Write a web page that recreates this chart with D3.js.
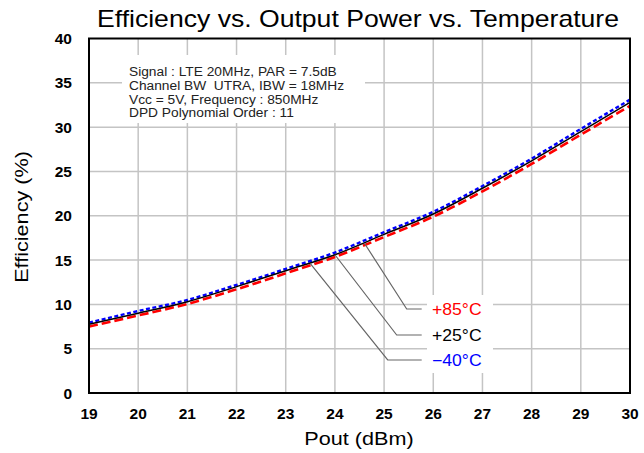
<!DOCTYPE html>
<html><head><meta charset="utf-8">
<script src="https://cdn.jsdelivr.net/npm/d3@7"></script>
<style>body{margin:0;background:#fff}svg{display:block;font-family:"Liberation Sans",Arial,sans-serif}</style>
</head><body><svg id="c" width="644" height="453"></svg>
<script>
const pout = [19,20,21,22,23,24,25,26,27,28,29,30];
const effM40 = [7.95,9.25,10.5,12.2,14.0,15.85,18.15,20.45,23.35,26.45,29.8,33.1];
const eff25  = [7.75,9.0,10.3,12.0,13.8,15.6,17.9,20.2,23.1,26.2,29.5,32.8];
const eff85  = [7.5,8.75,10.05,11.7,13.5,15.35,17.6,19.9,22.75,25.85,29.15,32.4];
const xTicks = [19,20,21,22,23,24,25,26,27,28,29,30];
const yTicks = [0,5,10,15,20,25,30,35,40];
const infoLines = ["Signal : LTE 20MHz, PAR = 7.5dB","Channel BW  UTRA, IBW = 18MHz","Vcc = 5V, Frequency : 850MHz","DPD Polynomial Order : 11"];
const seriesNames = ["+85°C","+25°C","\u221240°C"];

const svg = d3.select("#c");
const L=89,R=630,T=38.5,B=393;
const x = d3.scaleLinear().domain([19,30]).range([L,R]);
const y = d3.scaleLinear().domain([0,40]).range([B,T]);

function stretch(sel, f){ sel.each(function(){ const w=this.getComputedTextLength(); d3.select(this).attr("textLength",w*f).attr("lengthAdjust","spacingAndGlyphs"); }); }

// grid
svg.append("g").selectAll("line").data(xTicks.slice(1,-1)).join("line")
  .attr("x1",d=>x(d)).attr("x2",d=>x(d)).attr("y1",T).attr("y2",B)
  .attr("stroke","#c4c4c4").attr("stroke-width",1.5);
svg.append("g").selectAll("line").data(yTicks.slice(1,-1)).join("line")
  .attr("y1",d=>y(d)).attr("y2",d=>y(d)).attr("x1",L).attr("x2",R)
  .attr("stroke","#c4c4c4").attr("stroke-width",1.5);

// info box background
svg.append("rect").attr("x",122).attr("y",55).attr("width",243).attr("height",68).attr("fill","#fff");
const info = svg.append("g").selectAll("text").data(infoLines).join("text")
  .attr("x",129).attr("y",(d,i)=>76+i*13.8).attr("font-size",12.5).attr("fill","#222").attr("xml:space","preserve").style("white-space","pre").text(d=>d);
stretch(info,1.1);

// label background
svg.append("rect").attr("x",427).attr("y",295).attr("width",66).attr("height",78).attr("fill","#fff");

// curves
const line = d3.line().x((d,i)=>x(pout[i])).y(d=>y(d)).curve(d3.curveMonotoneX);
svg.append("path").attr("d",line(eff85)).attr("fill","none").attr("stroke","#ff0000").attr("stroke-width",2.6).attr("stroke-dasharray","9,4");
svg.append("path").attr("d",line(effM40)).attr("fill","none").attr("stroke","#0000ff").attr("stroke-width",2.4).attr("stroke-dasharray","4,2.5");
svg.append("path").attr("d",line(eff25)).attr("fill","none").attr("stroke","#000").attr("stroke-width",1.5);

// leaders
const leaders = [
  {px:24.6, py:16.9, ly:309, name:seriesNames[0], color:"#ff0000", ex:406.7},
  {px:24.0, py:15.6, ly:335, name:seriesNames[1], color:"#000", ex:396.7},
  {px:23.5, py:14.6, ly:360, name:seriesNames[2], color:"#0000ff", ex:387.7}
];
const lg = svg.append("g");
leaders.forEach(l=>{
  lg.append("polyline").attr("points",`${x(l.px)},${y(l.py)} ${l.ex},${l.ly} 421.7,${l.ly}`)
    .attr("fill","none").attr("stroke","#666").attr("stroke-width",1.2);
  const t = lg.append("text").attr("x",432).attr("y",l.ly+6).attr("font-size",16).attr("fill",l.color).text(l.name);
  stretch(t,1.1);
});

// border
svg.append("rect").attr("x",L).attr("y",T).attr("width",R-L).attr("height",B-T).attr("fill","none").attr("stroke","#000").attr("stroke-width",2);

// axes labels
svg.append("g").selectAll("text").data(yTicks).join("text")
  .attr("x",72).attr("y",d=>y(d)+5.5).attr("text-anchor","end").attr("font-size",15.5).attr("font-weight","bold").text(d=>d);
svg.append("g").selectAll("text").data(xTicks).join("text")
  .attr("x",d=>x(d)).attr("y",419).attr("text-anchor","middle").attr("font-size",15.5).attr("font-weight","bold").text(d=>d);

const xt = svg.append("text").attr("x",359).attr("y",445).attr("text-anchor","middle").attr("font-size",18).text("Pout (dBm)");
stretch(xt,1.2);
const yt = svg.append("text").attr("transform","translate(28,217) rotate(-90)").attr("text-anchor","middle").attr("font-size",18).text("Efficiency (%)");
stretch(yt,1.2);
const tt = svg.append("text").attr("x",358).attr("y",27).attr("text-anchor","middle").attr("font-size",24).text("Efficiency vs. Output Power vs. Temperature");
tt.attr("textLength",522).attr("lengthAdjust","spacingAndGlyphs");
</script></body></html>
